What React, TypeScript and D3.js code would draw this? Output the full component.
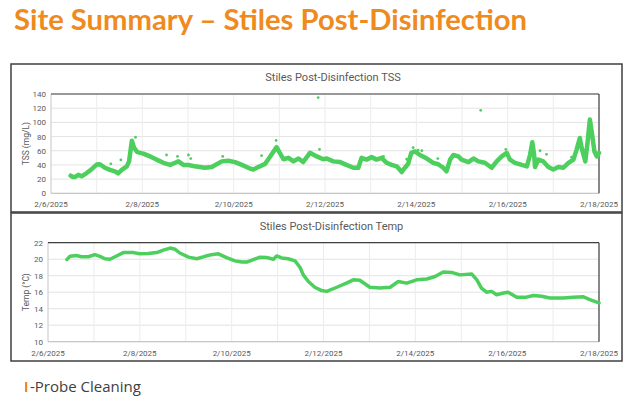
import React from "react"
import * as d3 from "d3"

// values (day offset from 2/6/2025 00:00)
const tssDays = [
  0.43, 0.48, 0.53, 0.6, 0.67, 0.78, 0.89, 1.0, 1.07, 1.18, 1.29, 1.4, 1.47, 1.55, 1.66, 1.71, 1.77,
  1.82, 1.89, 2.02, 2.17, 2.31, 2.46, 2.61, 2.72, 2.79, 2.9, 3.01, 3.15, 3.37, 3.52, 3.74, 3.88,
  4.03, 4.18, 4.32, 4.43, 4.54, 4.69, 4.8, 4.9, 4.94, 5.01, 5.09, 5.2, 5.31, 5.42, 5.52, 5.67, 5.82,
  5.96, 6.04, 6.18, 6.33, 6.47, 6.62, 6.73, 6.8, 6.91, 7.02, 7.13, 7.24, 7.35, 7.46, 7.57, 7.68,
  7.75, 7.82, 7.89, 7.97, 8.08, 8.23, 8.37, 8.48, 8.59, 8.66, 8.74, 8.81, 8.92, 8.99, 9.14, 9.25,
  9.36, 9.5, 9.65, 9.76, 9.87, 9.98, 10.05, 10.16, 10.31, 10.42, 10.49, 10.54, 10.58, 10.6, 10.67,
  10.78, 10.89, 11.0, 11.11, 11.22, 11.33, 11.44, 11.51, 11.58, 11.62, 11.7, 11.75, 11.8, 11.84,
  11.9, 11.95, 12.0,
]
const tssValues = [
  25, 23, 23, 26, 24, 28.5, 34, 40.5, 41, 36, 33, 31, 28, 33, 38, 45, 74,
  64, 58, 56, 52, 47.5, 43, 40, 43, 45, 40, 40, 38, 36, 37, 45, 46,
  44, 40, 36, 33.5, 37, 41.5, 52, 61.5, 65, 57, 48, 50, 45, 49, 44, 57, 52,
  48, 49, 45, 44, 40, 36, 36, 50, 47.5, 51, 47.5, 50, 43, 40, 38, 30,
  36, 41.5, 57, 59, 54, 49, 43, 41, 36, 31, 47.5, 54, 52, 47.5, 44, 49,
  45, 43, 36, 45, 52, 57, 47.5, 43, 40, 38, 54, 72, 54, 37, 47.5,
  45, 37, 33.5, 37, 36, 43, 47.5, 61.5, 78, 64, 45, 72, 104, 87,
  59, 52, 57,
]
const tssOutlierDays = [1.31, 1.53, 1.85, 2.53, 2.77, 3.01, 3.06, 3.76, 4.61, 4.93, 5.85, 5.88, 7.28, 7.79, 7.93, 8.04, 8.12, 8.47, 9.41, 9.96, 10.71, 10.85, 11.4]
const tssOutlierValues = [41.5, 47, 79, 54, 52, 54, 49, 52, 53, 74.5, 135, 62, 52, 48, 64.5, 61, 60, 49, 117, 62, 60, 55, 51]

const tempDays = [
  0.41, 0.48, 0.62, 0.73, 0.88, 1.02, 1.13, 1.24, 1.35, 1.46, 1.64, 1.86, 2.0, 2.18, 2.37, 2.51,
  2.66, 2.77, 2.87, 3.06, 3.24, 3.42, 3.56, 3.71, 3.89, 4.07, 4.22, 4.33, 4.47, 4.62, 4.76, 4.91,
  4.98, 5.09, 5.23, 5.38, 5.49, 5.56, 5.67, 5.81, 5.96, 6.07, 6.29, 6.5, 6.65, 6.79, 7.01, 7.23,
  7.45, 7.63, 7.81, 8.03, 8.25, 8.43, 8.61, 8.79, 8.97, 9.23, 9.34, 9.44, 9.55, 9.66, 9.77, 9.92,
  10.02, 10.21, 10.42, 10.57, 10.75, 10.93, 11.22, 11.44, 11.66, 11.8, 11.95, 12.0,
]
const tempValues = [
  19.95, 20.35, 20.45, 20.3, 20.3, 20.55, 20.35, 20.05, 20.0, 20.3, 20.8, 20.8, 20.65, 20.7, 20.8, 21.1,
  21.35, 21.2, 20.75, 20.25, 20.05, 20.35, 20.55, 20.65, 20.2, 19.8, 19.65, 19.65, 19.95, 20.25, 20.2, 20.0,
  20.4, 20.15, 20.05, 19.8, 19.0, 18.1, 17.3, 16.6, 16.2, 16.1, 16.6, 17.1, 17.5, 17.45, 16.6, 16.5,
  16.6, 17.3, 17.1, 17.5, 17.6, 17.9, 18.45, 18.4, 18.1, 18.2, 17.5, 16.5, 16.0, 16.1, 15.7, 15.9,
  16.0, 15.4, 15.4, 15.6, 15.5, 15.3, 15.3, 15.4, 15.45, 15.1, 14.8, 14.7,
]

const tssTicks = [0, 20, 40, 60, 80, 100, 120, 140]
const tempTicks = [10, 12, 14, 16, 18, 20, 22]
const dateLabels = ["2/6/2025", "2/8/2025", "2/10/2025", "2/12/2025", "2/14/2025", "2/16/2025", "2/18/2025"]

const start = new Date(2025, 1, 6)
const toDate = (d: number) => new Date(start.getTime() + d * 864e5)
const green = "#4ccf5c"
const gray = "#595959"
const font = "Roboto, 'Liberation Sans', sans-serif"

type PanelProps = {
  box: [number, number, number, number]
  plot: { left: number; right: number; top: number; bottom: number }
  title: string
  yLabel: string
  yTicks: number[]
  days: number[]
  values: number[]
  lineWidth: number
  outDays?: number[]
  outValues?: number[]
}

const Panel = ({ box, plot, title, yLabel, yTicks, days, values, lineWidth, outDays = [], outValues = [] }: PanelProps) => {
  const x = d3.scaleTime().domain([start, toDate(12)]).range([plot.left, plot.right])
  const y = d3
    .scaleLinear()
    .domain([yTicks[0], yTicks[yTicks.length - 1]])
    .range([plot.bottom, plot.top])
  const pts = days.map((d, i) => [toDate(d), values[i]] as [Date, number])
  const line = d3
    .line<[Date, number]>()
    .x(d => x(d[0]))
    .y(d => y(d[1]))
  const dayTicks = d3.range(0, 13).map(toDate)
  const [bx, by, bw, bh] = box
  const midY = (plot.top + plot.bottom) / 2

  return (
    <g>
      <rect x={bx} y={by} width={bw} height={bh} fill="white" stroke="#3f3f3f" strokeWidth={1.5} />
      <text x={(plot.left + plot.right) / 2 + 8} y={by + 17} textAnchor="middle" fontSize={11} fill={gray} fontFamily={font}>
        {title}
      </text>
      {/* gridlines */}
      {yTicks.map(t => (
        <line key={"h" + t} x1={plot.left} x2={plot.right} y1={y(t)} y2={y(t)} stroke="#e3e3e3" strokeWidth={1} />
      ))}
      {dayTicks.map((t, i) => (
        <line key={"v" + i} x1={x(t)} x2={x(t)} y1={plot.top} y2={plot.bottom} stroke="#ececec" strokeWidth={1} />
      ))}
      {/* plot frame */}
      <line x1={plot.left} x2={plot.left} y1={plot.top} y2={plot.bottom} stroke="#d0d0d0" />
      <line x1={plot.left} x2={plot.right} y1={plot.bottom} y2={plot.bottom} stroke="#bfbfbf" />
      <line x1={plot.left} x2={plot.right} y1={plot.top} y2={plot.top} stroke="#404040" strokeWidth={1.2} />
      <line x1={plot.right} x2={plot.right} y1={plot.top} y2={plot.bottom} stroke="#404040" strokeWidth={1.2} />
      {/* y ticks */}
      {yTicks.map(t => (
        <text key={"yl" + t} x={plot.left - 5} y={y(t) + 3} textAnchor="end" fontSize={8} fill={gray} fontFamily={font}>
          {t}
        </text>
      ))}
      {/* x ticks */}
      {dateLabels.map((l, i) => (
        <text key={l} x={x(toDate(i * 2))} y={plot.bottom + 14} textAnchor="middle" fontSize={8} fill={gray} fontFamily={font}>
          {l}
        </text>
      ))}
      <text
        transform={`translate(${bx + 18},${midY}) rotate(-90)`}
        textAnchor="middle"
        fontSize={8.5}
        fill={gray}
        fontFamily={font}
      >
        {yLabel}
      </text>
      <path d={line(pts) ?? ""} fill="none" stroke={green} strokeWidth={lineWidth} strokeLinejoin="round" strokeLinecap="round" />
      {outDays.map((d, i) => (
        <circle key={"o" + i} cx={x(toDate(d))} cy={y(outValues[i])} r={1.4} fill={green} />
      ))}
    </g>
  )
}

export default function App() {
  return (
    <div style={{ position: "fixed", left: 0, top: 0 }}>
      <svg width={635} height={397} style={{ display: "block", background: "white" }}>
        <text x={14} y={30} fontSize={28} fontWeight={700} fill="#ef8a1f" fontFamily="Lato, 'Open Sans', sans-serif" textLength={513} lengthAdjust="spacingAndGlyphs">
          Site Summary – Stiles Post-Disinfection
        </text>
        <Panel
          box={[11, 64, 611, 148]}
          plot={{ left: 51, right: 599, top: 94, bottom: 193.3 }}
          title="Stiles Post-Disinfection TSS"
          yLabel="TSS (mg/L)"
          yTicks={tssTicks}
          days={tssDays}
          values={tssValues}
          lineWidth={4.5}
          outDays={tssOutlierDays}
          outValues={tssOutlierValues}
        />
        <Panel
          box={[11, 213, 611, 148]}
          plot={{ left: 48, right: 599, top: 242.7, bottom: 341.7 }}
          title="Stiles Post-Disinfection Temp"
          yLabel="Temp (°C)"
          yTicks={tempTicks}
          days={tempDays}
          values={tempValues}
          lineWidth={3.5}
        />
        <rect x={25} y={382} width={2.2} height={10} fill="#ef8a1f" />
        <text x={30} y={392} fontSize={15} fill="#404040" fontFamily="'Open Sans', Lato, sans-serif">
          -Probe Cleaning
        </text>
      </svg>
    </div>
  )
}
